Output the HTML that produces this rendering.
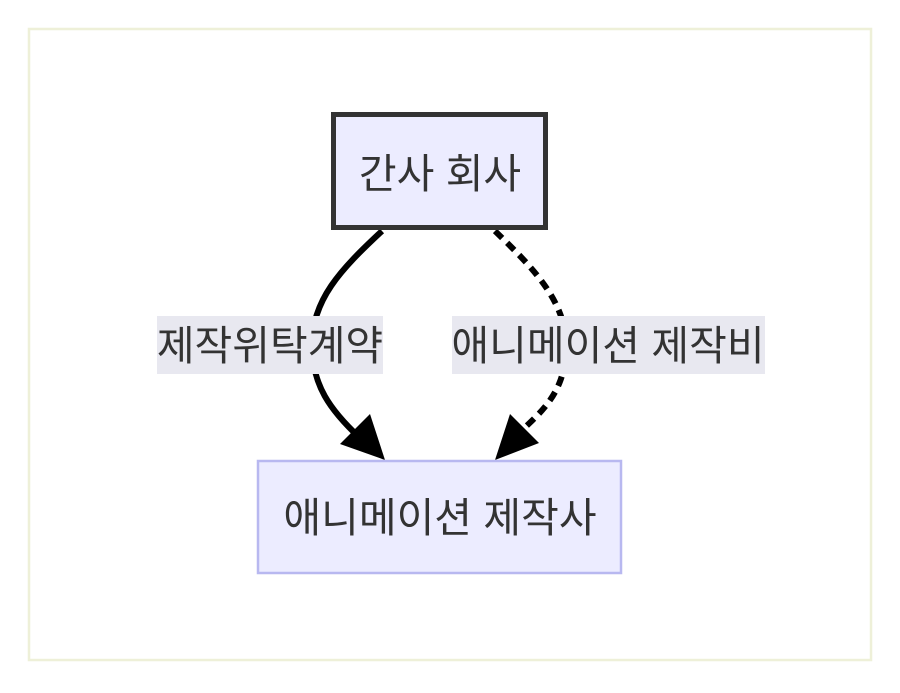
<!DOCTYPE html>
<html><head><meta charset="utf-8"><style>
body{margin:0;background:#fff;width:900px;height:688px;overflow:hidden}
svg text{font-family:"Liberation Sans","Noto Sans CJK KR",sans-serif;fill:#333}
</style></head><body>
<svg width="900" height="688" viewBox="0 0 900 688">
<rect x="29" y="29" width="842" height="631" fill="#fff" stroke="#eef0d8" stroke-width="2.5"/>
<path d="M382,231 C340,270 312,300 312,345 C312,385 330,410 360,438" fill="none" stroke="#000" stroke-width="6"/>
<polygon points="385,460 340,444 370,414" fill="#000"/>
<path d="M495,231 C530,265 566,300 566,345 C566,385 550,405 522,430" fill="none" stroke="#000" stroke-width="6" stroke-dasharray="10,7"/>
<polygon points="495,460 510,414 539,443" fill="#000"/>
<rect x="157" y="316" width="226" height="58" fill="#e8e8f0"/>
<text x="270" y="360" font-size="41" text-anchor="middle">제작위탁계약</text>
<rect x="452" y="316" width="313" height="58" fill="#e8e8f0"/>
<text x="608" y="360" font-size="41" text-anchor="middle">애니메이션 제작비</text>
<rect x="333.5" y="114.5" width="212" height="113" fill="#ececff" stroke="#333" stroke-width="5"/>
<text x="440" y="188" font-size="41" text-anchor="middle">간사 회사</text>
<rect x="258" y="461" width="363" height="112" fill="#ececff" stroke="#b8b8f0" stroke-width="2.5"/>
<text x="440" y="532" font-size="41" text-anchor="middle">애니메이션 제작사</text>
</svg>
</body></html>
